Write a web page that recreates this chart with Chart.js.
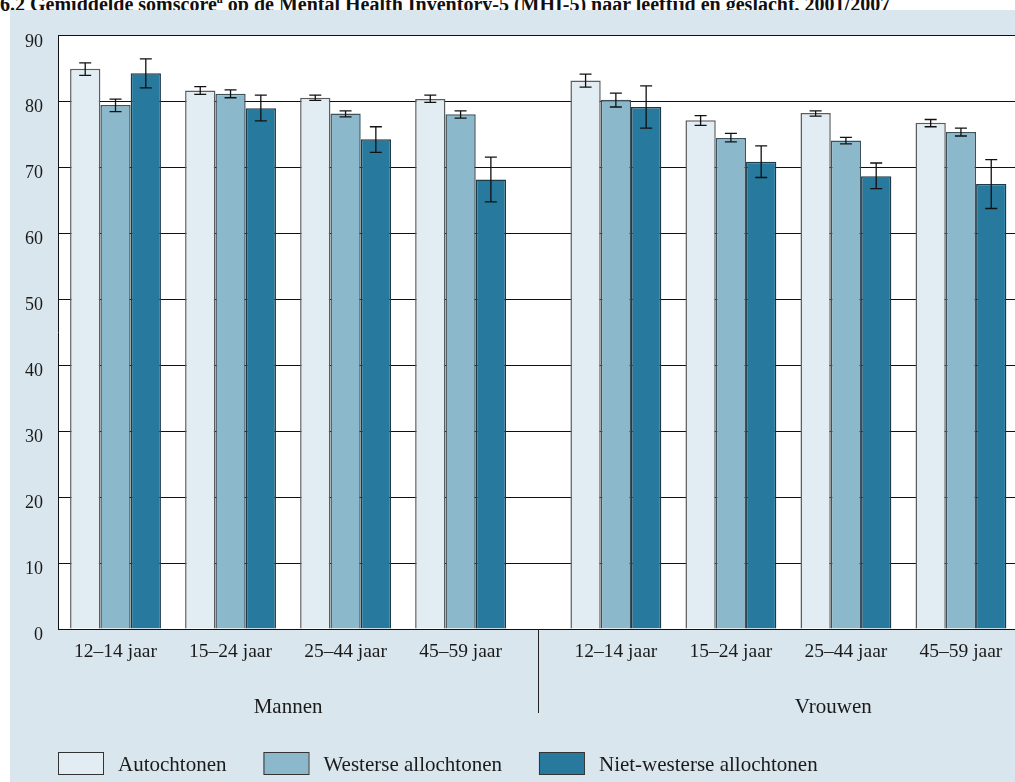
<!DOCTYPE html>
<html>
<head>
<meta charset="utf-8">
<script src="https://cdn.jsdelivr.net/npm/chart.js@4/dist/chart.umd.min.js"></script>
<style>
  html, body { margin: 0; padding: 0; background: #ffffff; overflow: hidden; }
  #title { position: absolute; left: 0; top: -11px; font: bold 20px "Liberation Serif", serif; line-height: 20px; color: #111; white-space: nowrap; }
  #title sup { font-size: 12px; }
  #panel { position: absolute; left: 10px; top: 10px; width: 1005px; height: 772px; background: #d9e6ee; }
  canvas { display: block; }
</style>
</head>
<body>
<div id="title">6.2 Gemiddelde somscore<sup>a</sup> op de Mental Health Inventory-5 (MHI-5) naar leeftijd en geslacht, 2001/2007</div>
<div id="panel"><canvas id="c" width="1005" height="772"></canvas></div>
<script>
// ---- data ----
const ageLabels = ["12–14 jaar", "15–24 jaar", "25–44 jaar", "45–59 jaar", "12–14 jaar", "15–24 jaar", "25–44 jaar", "45–59 jaar"];
const sexLabels = ["Mannen", "Vrouwen"];
const seriesNames = ["Autochtonen", "Westerse allochtonen", "Niet-westerse allochtonen"];

const autochtonen = [85.0, 81.7, 80.6, 80.4, 83.2, 77.2, 78.3, 76.8];
const westers     = [79.5, 81.2, 78.2, 78.1, 80.3, 74.5, 74.1, 75.4];
const nietWesters = [84.3, 79.0, 74.3, 68.2, 79.2, 70.9, 68.7, 67.5];

const autochtonenLo = [84.0, 81.1, 80.2, 79.9, 82.2, 76.4, 77.8, 76.2];
const autochtonenHi = [85.9, 82.3, 81.0, 81.0, 84.2, 77.9, 78.6, 77.3];
const westersLo     = [78.5, 80.6, 77.7, 77.5, 79.2, 73.9, 73.6, 74.8];
const westersHi     = [80.4, 81.8, 78.6, 78.6, 81.3, 75.2, 74.6, 76.0];
const nietWestersLo = [82.1, 77.1, 72.3, 64.8, 76.0, 68.5, 66.8, 63.8];
const nietWestersHi = [86.5, 81.0, 76.2, 71.6, 82.4, 73.3, 70.7, 71.2];

const yTicks = [0, 10, 20, 30, 40, 50, 60, 70, 80, 90];

// ---- layout ----
const sexGap = 0.35;           // extra space between the two sex blocks (in category units)
const groupsPerSex = 4;
const positions = ageLabels.map((_, i) => i + (i >= groupsPerSex ? sexGap : 0));

const fills   = ["#e1ecf3", "#8cb8cc", "#27799e"];
const borders = ["#5c5c5c", "#3e525c", "#1c3a48"];
const FONT = "'Liberation Serif', serif";

const values = [autochtonen, westers, nietWesters];
const lows   = [autochtonenLo, westersLo, nietWestersLo];
const highs  = [autochtonenHi, westersHi, nietWestersHi];

const datasets = seriesNames.map((name, d) => ({
  label: name,
  data: values[d].map((v, i) => ({ x: positions[i], y: v })),
  backgroundColor: fills[d],
  borderColor: borders[d],
  borderWidth: 1.5,
  borderSkipped: 'bottom',
  categoryPercentage: 0.79,
  barPercentage: 1.0
}));

const extrasPlugin = {
  id: 'extras',
  beforeDraw(chart) {
    const { ctx, chartArea: a } = chart;
    ctx.save();
    ctx.fillStyle = '#ffffff';
    ctx.fillRect(a.left, a.top, a.right - a.left, a.bottom - a.top);
    ctx.restore();
  },
  afterDatasetsDraw(chart) {
    const { ctx } = chart;
    const ys = chart.scales.y;
    ctx.save();
    ctx.strokeStyle = '#111';
    ctx.lineWidth = 1.3;
    for (let d = 0; d < 3; d++) {
      const meta = chart.getDatasetMeta(d);
      meta.data.forEach((bar, i) => {
        const x = bar.x;
        const y1 = ys.getPixelForValue(lows[d][i]);
        const y2 = ys.getPixelForValue(highs[d][i]);
        ctx.beginPath();
        ctx.moveTo(x, y1); ctx.lineTo(x, y2);
        ctx.moveTo(x - 6, y1); ctx.lineTo(x + 6, y1);
        ctx.moveTo(x - 6, y2); ctx.lineTo(x + 6, y2);
        ctx.stroke();
      });
    }
    ctx.restore();
  },
  afterDraw(chart) {
    const { ctx, chartArea: a } = chart;
    const xs = chart.scales.x;
    ctx.save();
    // divider between sexes
    const divVal = (positions[groupsPerSex - 1] + positions[groupsPerSex]) / 2;
    const dx = Math.round(xs.getPixelForValue(divVal)) + 0.5;
    ctx.strokeStyle = '#222';
    ctx.lineWidth = 1;
    ctx.beginPath();
    ctx.moveTo(dx, a.bottom); ctx.lineTo(dx, a.bottom + 84);
    ctx.stroke();
    // sex labels
    ctx.fillStyle = '#1a1a1a';
    ctx.font = "21px " + FONT;
    ctx.textAlign = 'center';
    ctx.textBaseline = 'middle';
    const menCenter = (positions[0] + positions[groupsPerSex - 1]) / 2;
    const womenCenter = (positions[groupsPerSex] + positions[2 * groupsPerSex - 1]) / 2 + 0.39;
    ctx.fillText(sexLabels[0], xs.getPixelForValue(menCenter), a.bottom + 78);
    ctx.fillText(sexLabels[1], xs.getPixelForValue(womenCenter), a.bottom + 78);
    // legend
    let lx = a.left;
    const ly = 742;
    ctx.textAlign = 'left';
    seriesNames.forEach((name, d) => {
      ctx.fillStyle = fills[d];
      ctx.fillRect(lx, ly, 45, 22);
      ctx.strokeStyle = '#333';
      ctx.lineWidth = 1;
      ctx.strokeRect(lx + 0.5, ly + 0.5, 45, 22);
      ctx.fillStyle = '#1a1a1a';
      ctx.fillText(name, lx + 60, ly + 13);
      lx += 60 + ctx.measureText(name).width + 37;
    });
    ctx.restore();
  }
};

new Chart(document.getElementById('c'), {
  type: 'bar',
  data: { datasets },
  options: {
    responsive: false,
    devicePixelRatio: 1,
    animation: false,
    layout: { padding: { top: 23, right: 0, bottom: 0, left: 0 } },
    plugins: { legend: { display: false }, tooltip: { enabled: false } },
    scales: {
      x: {
        type: 'linear',
        offset: false,
        min: -0.5,
        max: 7.82,
        grid: { display: false, drawTicks: false },
        border: { display: true, color: '#111', width: 1 },
        afterBuildTicks(scale) { scale.ticks = positions.map(v => ({ value: v })); },
        afterFit(scale) { scale.height = 153; },
        ticks: {
          autoSkip: false, maxRotation: 0, minRotation: 0,
          padding: 11,
          color: '#1a1a1a',
          font: { family: FONT, size: 19.5 },
          callback: (value, index) => ageLabels[index]
        }
      },
      y: {
        min: 0, max: 90,
        afterBuildTicks(scale) { scale.ticks = yTicks.map(v => ({ value: v })); },
        afterFit(scale) { scale.width = 48; },
        grid: { color: '#111', lineWidth: 1, drawTicks: false },
        border: { display: true, color: '#111', width: 1 },
        ticks: {
          padding: 15,
          labelOffset: 6,
          color: '#1a1a1a',
          font: { family: FONT, size: 18 }
        }
      }
    }
  },
  plugins: [extrasPlugin]
});
</script>
</body>
</html>
